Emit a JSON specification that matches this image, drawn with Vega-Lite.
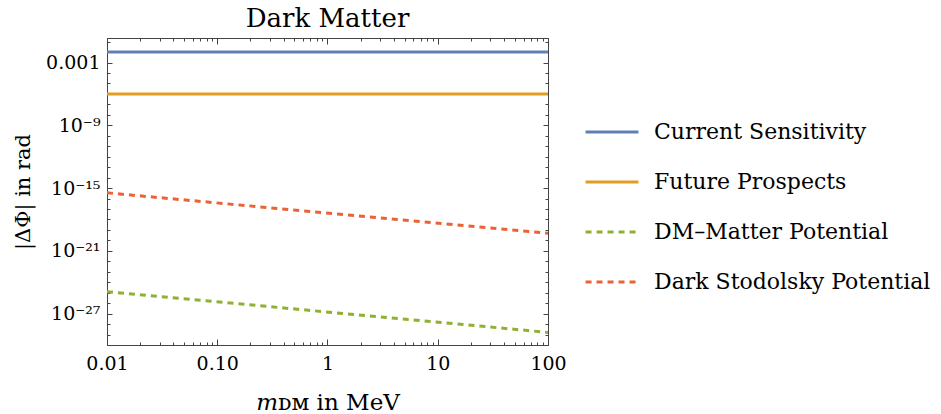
{
  "$schema": "https://vega.github.io/schema/vega-lite/v6.json",
  "width": 441,
  "height": 307,
  "autosize": {"type": "none"},
  "padding": {"left": 107, "top": 38, "right": 393, "bottom": 69},
  "title": {"text": "Dark Matter", "font": "DejaVu Serif", "fontSize": 26, "fontWeight": "normal", "anchor": "middle", "offset": 6, "color": "black"},
  "config": {
    "view": {"stroke": "#444", "strokeWidth": 1},
    "axis": {"grid": false, "domain": false, "labelFlush": false, "tickColor": "#444", "tickWidth": 1, "labelFont": "DejaVu Serif", "labelColor": "black", "titleFont": "DejaVu Serif", "titleColor": "black", "titleFontWeight": "normal"}
  },
  "data": {"values": [
    {"series": "Current Sensitivity", "m": 0.01, "v": 0.01},
    {"series": "Current Sensitivity", "m": 100, "v": 0.01},
    {"series": "Future Prospects", "m": 0.01, "v": 1e-6},
    {"series": "Future Prospects", "m": 100, "v": 1e-6},
    {"series": "DM–Matter Potential", "m": 0.01, "v": 1.26e-25},
    {"series": "DM–Matter Potential", "m": 100, "v": 1.6e-29},
    {"series": "Dark Stodolsky Potential", "m": 0.01, "v": 3.5e-16},
    {"series": "Dark Stodolsky Potential", "m": 100, "v": 4.8e-20}
  ]},
  "resolve": {"axis": {"x": "independent", "y": "independent"}},
  "layer": [
    {
      "mark": {"type": "line", "strokeWidth": 3, "clip": true},
      "encoding": {
        "x": {"field": "m", "type": "quantitative", "scale": {"type": "log", "domain": [0.01, 100], "nice": false},
          "axis": {"orient": "bottom", "values": [0.01, 0.1, 1, 10, 100], "ticks": false, "labelFontSize": 19, "labelPadding": 9, "labelFlush": false,
            "labelExpr": "datum.value < 0.05 ? '0.01' : datum.value < 0.5 ? '0.10' : datum.value < 5 ? '1' : datum.value < 50 ? '10' : '100'",
            "title": "𝑚ᴅᴍ in MeV", "titleFontSize": 23, "titlePadding": 18}},
        "y": {"field": "v", "type": "quantitative", "scale": {"type": "log", "domain": [1e-30, 0.22], "nice": false},
          "axis": {"orient": "left", "values": [0.001, 1e-9, 1e-15, 1e-21, 1e-27], "ticks": false, "labelFontSize": 19, "labelPadding": 7,
            "labelExpr": "datum.value > 1e-4 ? '0.001' : datum.value > 1e-12 ? '10⁻⁹' : datum.value > 1e-18 ? '10⁻¹⁵' : datum.value > 1e-24 ? '10⁻²¹' : '10⁻²⁷'",
            "title": "|ΔΦ| in rad", "titleFontSize": 21, "titlePadding": 12}},
        "color": {"field": "series", "type": "nominal",
          "scale": {"domain": ["Current Sensitivity", "Future Prospects", "DM–Matter Potential", "Dark Stodolsky Potential"], "range": ["#5E81B5", "#E19C24", "#8FB032", "#EB6235"]},
          "legend": {"orient": "none", "legendX": 477, "legendY": 66, "title": null, "symbolType": "stroke", "symbolSize": 2800, "symbolStrokeWidth": 3, "labelFont": "DejaVu Serif", "labelFontSize": 22, "labelColor": "black", "labelOffset": 14, "rowPadding": 11, "padding": 0, "labelLimit": 400}},
        "strokeDash": {"field": "series", "type": "nominal",
          "scale": {"domain": ["Current Sensitivity", "Future Prospects", "DM–Matter Potential", "Dark Stodolsky Potential"], "range": [[1, 0], [1, 0], [6, 5], [6, 5]]},
          "legend": {"orient": "none", "legendX": 477, "legendY": 66, "title": null, "symbolType": "stroke", "symbolSize": 2800, "symbolStrokeWidth": 3, "labelFont": "DejaVu Serif", "labelFontSize": 22, "labelColor": "black", "labelOffset": 14, "rowPadding": 11, "padding": 0, "labelLimit": 400}}
      }
    },
    {
      "mark": {"type": "line", "strokeOpacity": 0},
      "encoding": {
        "x": {"field": "m", "type": "quantitative", "scale": {"type": "log", "domain": [0.01, 100], "nice": false},
          "axis": {"orient": "bottom", "values": [0.01, 0.1, 1, 10, 100], "labels": false, "tickSize": 6, "offset": -6, "title": null}},
        "y": {"field": "v", "type": "quantitative", "scale": {"type": "log", "domain": [1e-30, 0.22], "nice": false},
          "axis": {"orient": "left", "values": [0.001, 1e-9, 1e-15, 1e-21, 1e-27], "labels": false, "tickSize": 5, "offset": -5, "title": null}}
      }
    },
    {
      "mark": {"type": "line", "strokeOpacity": 0},
      "encoding": {
        "x": {"field": "m", "type": "quantitative", "scale": {"type": "log", "domain": [0.01, 100], "nice": false},
          "axis": {"orient": "bottom", "values": [0.02, 0.03, 0.04, 0.05, 0.06, 0.07, 0.08, 0.09, 0.2, 0.3, 0.4, 0.5, 0.6, 0.7, 0.8, 0.9, 2, 3, 4, 5, 6, 7, 8, 9, 20, 30, 40, 50, 60, 70, 80, 90], "labels": false, "tickSize": 3, "offset": -3, "title": null}},
        "y": {"field": "v", "type": "quantitative", "scale": {"type": "log", "domain": [1e-30, 0.22], "nice": false},
          "axis": {"orient": "left", "values": [1e-30, 1e-29, 1e-28, 1e-26, 1e-25, 1e-24, 1e-23, 1e-22, 1e-20, 1e-19, 1e-18, 1e-17, 1e-16, 1e-14, 1e-13, 1e-12, 1e-11, 1e-10, 1e-8, 1e-7, 1e-6, 1e-5, 1e-4, 0.01, 0.1], "labels": false, "tickSize": 3, "offset": -3, "title": null}}
      }
    },
    {
      "mark": {"type": "line", "strokeOpacity": 0},
      "encoding": {
        "x": {"field": "m", "type": "quantitative", "scale": {"type": "log", "domain": [0.01, 100], "nice": false},
          "axis": {"orient": "top", "values": [0.01, 0.1, 1, 10, 100], "labels": false, "tickSize": 6, "offset": -6, "title": null}},
        "y": {"field": "v", "type": "quantitative", "scale": {"type": "log", "domain": [1e-30, 0.22], "nice": false},
          "axis": {"orient": "right", "values": [0.001, 1e-9, 1e-15, 1e-21, 1e-27], "labels": false, "tickSize": 5, "offset": -5, "title": null}}
      }
    },
    {
      "mark": {"type": "line", "strokeOpacity": 0},
      "encoding": {
        "x": {"field": "m", "type": "quantitative", "scale": {"type": "log", "domain": [0.01, 100], "nice": false},
          "axis": {"orient": "top", "values": [0.02, 0.03, 0.04, 0.05, 0.06, 0.07, 0.08, 0.09, 0.2, 0.3, 0.4, 0.5, 0.6, 0.7, 0.8, 0.9, 2, 3, 4, 5, 6, 7, 8, 9, 20, 30, 40, 50, 60, 70, 80, 90], "labels": false, "tickSize": 3, "offset": -3, "title": null}},
        "y": {"field": "v", "type": "quantitative", "scale": {"type": "log", "domain": [1e-30, 0.22], "nice": false},
          "axis": {"orient": "right", "values": [1e-30, 1e-29, 1e-28, 1e-26, 1e-25, 1e-24, 1e-23, 1e-22, 1e-20, 1e-19, 1e-18, 1e-17, 1e-16, 1e-14, 1e-13, 1e-12, 1e-11, 1e-10, 1e-8, 1e-7, 1e-6, 1e-5, 1e-4, 0.01, 0.1], "labels": false, "tickSize": 3, "offset": -3, "title": null}}
      }
    }
  ]
}
